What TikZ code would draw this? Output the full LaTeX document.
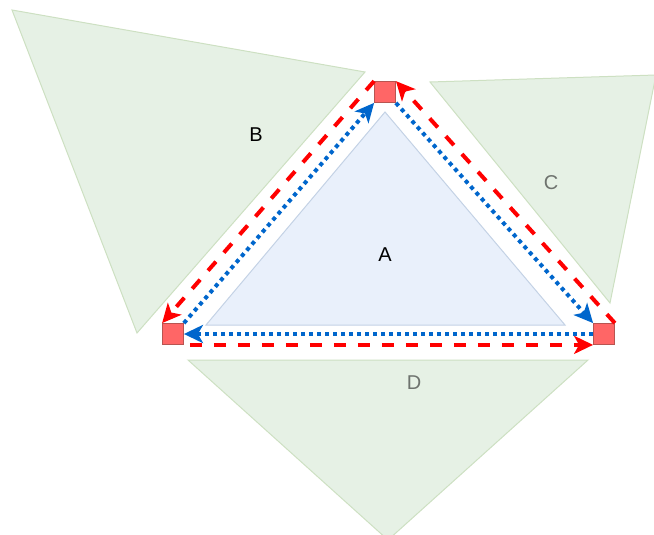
\documentclass[tikz,border=0pt]{standalone}
\usepackage{fontspec}
\setmainfont{Liberation Sans}
\usepackage{tikz}
\usetikzlibrary{arrows.meta, calc}
\definecolor{flowred}{HTML}{FF0000}
\definecolor{flowblue}{HTML}{0066CC}
\definecolor{markfill}{HTML}{FF6666}
\definecolor{markline}{HTML}{B85450}
\definecolor{sidefill}{HTML}{E6F1E5}
\definecolor{sideline}{HTML}{CDE0C2}
\definecolor{basefill}{HTML}{E9F0FB}
\definecolor{baseline}{HTML}{C4D2E5}
\definecolor{labelgray}{HTML}{6E736E}
\tikzset{
    marker/.style={rectangle, draw=markline, fill=markfill, minimum size=21pt, inner sep=0pt, line width=0.8pt},
    sideface/.style={fill=sidefill, draw=sideline, line width=1pt, line join=miter},
    baseface/.style={fill=basefill, draw=baseline, line width=1pt},
    facelabel/.style={font=\fontsize{20}{24}\selectfont, inner sep=0pt},
    redflow/.style={-{Stealth[length=19pt, width=18pt, inset=5pt]}, draw=flowred, line width=4pt, dash pattern=on 12pt off 12pt},
    blueflow/.style={-{Stealth[length=19pt, width=18pt, inset=5pt]}, draw=flowblue, line width=4pt, dash pattern=on 4pt off 4pt},
}

\begin{document}
\begin{tikzpicture}[x=1pt, y=-1pt]
    \useasboundingbox (0,0) rectangle (654,535);

    % faces round the base
    \path[sideface] (12,10) -- (365,72) -- (137,333) -- cycle;
    \path[sideface] (430,82) -- (656,75) -- (610,303) -- cycle;
    \path[sideface] (188,360) -- (588,360) -- (388,540) -- cycle;
    \path[baseface] (385,112) -- (206,325) -- (565,325) -- cycle;

    \node[facelabel] (lblA) at (385,255) {A};
    \node[facelabel] (lblB) at (256,135) {B};
    \node[facelabel, text=labelgray] (lblC) at (551,183) {C};
    \node[facelabel, text=labelgray] (lblD) at (414,383) {D};

    % corner markers
    \node[marker] (top) at (385,92) {};
    \node[marker] (left) at (173,334) {};
    \node[marker] (right) at (604,334) {};

    % outer loop
    \draw[redflow] (top.north west) -- (left.north west);
    \draw[redflow, shorten <=6pt] (left.south east) -- (right.south west);
    \draw[redflow] (right.north east) -- (top.north east);

    % inner loop
    \draw[blueflow] (left.north east) -- (top.south west);
    \draw[blueflow] (top.south east) -- (right.north west);
    \draw[blueflow] (right.west) -- (left.east);
\end{tikzpicture}
\end{document}
